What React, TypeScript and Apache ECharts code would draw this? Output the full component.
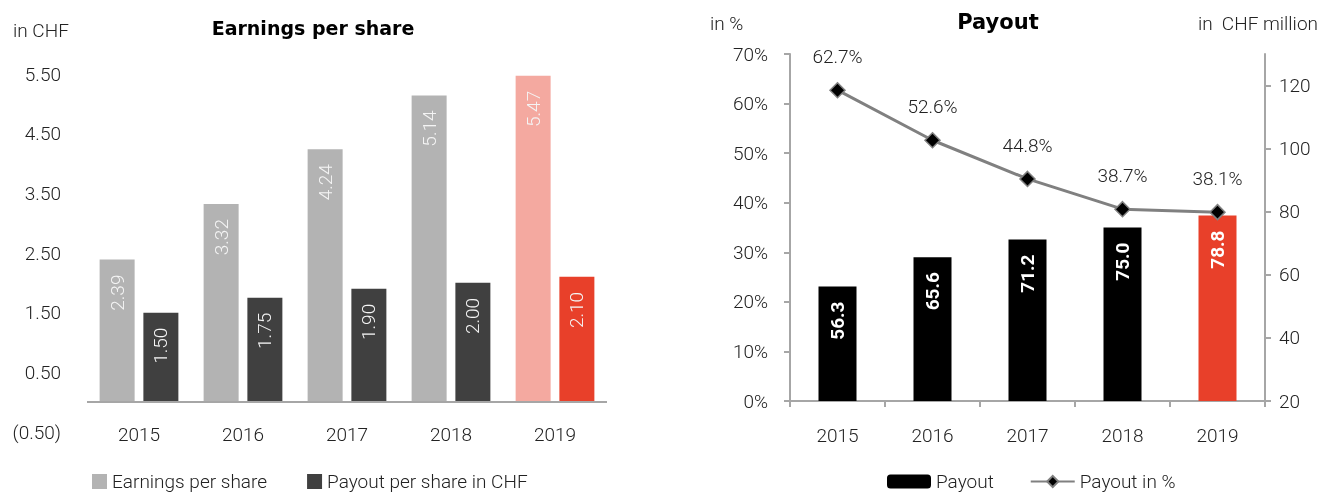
import React, { useEffect, useRef } from 'react';
import * as echarts from 'echarts';

const years = ['2015', '2016', '2017', '2018', '2019'];
const epsValues = [2.39, 3.32, 4.24, 5.14, 5.47];
const payoutPerShare = [1.5, 1.75, 1.9, 2.0, 2.1];
const payoutMillion = [56.3, 65.6, 71.2, 75.0, 78.8];
const payoutPercent = [62.7, 52.6, 44.8, 38.7, 38.1];
const rightAxisTicks = [20, 40, 60, 80, 100, 120];

const FONT = 'Roboto, "Liberation Sans", sans-serif';
const TITLE_FONT = '"DejaVu Sans", sans-serif';
const TXT = '#222';
const AXIS = '#a6a6a6';
const GREY = '#b3b3b3';
const DARK = '#404040';
const RED = '#e8402a';
const LIGHTRED = '#f4a9a0';
const LW = 300;

export default function App() {
  const ref = useRef<HTMLDivElement>(null);
  useEffect(() => {
    if (!ref.current) return;
    const chart = echarts.init(ref.current, undefined, { renderer: 'svg' });
    const highlightLast = (vals: number[], last: string) =>
      vals.map((v, i) => (i === vals.length - 1 ? { value: v, itemStyle: { color: last } } : v));

    const option: any = {
      animation: false,
      textStyle: { fontFamily: FONT },
      graphic: [
        { type: 'text', style: { text: 'in CHF', x: 13, y: 30, fontSize: 19, fontWeight: LW, fontFamily: FONT, fill: TXT, textVerticalAlign: 'middle' } },
        { type: 'text', style: { text: 'Earnings per share', x: 313, y: 28, fontSize: 19, fontWeight: 'bold', fontFamily: TITLE_FONT, fill: '#000', textAlign: 'center', textVerticalAlign: 'middle' } },
        { type: 'text', style: { text: 'in %', x: 710, y: 23, fontSize: 19, fontWeight: LW, fontFamily: FONT, fill: TXT, textVerticalAlign: 'middle' } },
        { type: 'text', style: { text: 'Payout', x: 998, y: 22, fontSize: 21, fontWeight: 'bold', fontFamily: TITLE_FONT, fill: '#000', textAlign: 'center', textVerticalAlign: 'middle' } },
        { type: 'text', style: { text: 'in  CHF million', x: 1318, y: 23, fontSize: 19, fontWeight: LW, fontFamily: FONT, fill: TXT, textAlign: 'right', textVerticalAlign: 'middle' } },
      ],
      legend: [
        {
          data: ['Earnings per share', 'Payout per share in CHF'],
          left: 87, top: 467, icon: 'rect', itemWidth: 15, itemHeight: 15, itemGap: 40,
          textStyle: { fontSize: 19, fontWeight: LW, color: TXT, fontFamily: FONT },
          selectedMode: false,
        },
        {
          data: ['Payout', 'Payout in %'],
          left: 882, top: 467, itemWidth: 44, itemHeight: 14, itemGap: 36,
          textStyle: { fontSize: 19, fontWeight: LW, color: TXT, fontFamily: FONT },
          selectedMode: false,
        },
      ],
      grid: [
        { left: 87, width: 520, top: 74, height: 358 },
        { left: 790, width: 475, top: 54, height: 347 },
      ],
      xAxis: [
        {
          type: 'category', gridIndex: 0, data: years,
          axisLine: { show: false, onZero: false },
          axisTick: { show: false },
          axisLabel: { margin: -7, fontSize: 19, fontWeight: LW, color: TXT, fontFamily: FONT },
        },
        {
          type: 'category', gridIndex: 1, data: years,
          axisLine: { show: true, lineStyle: { color: AXIS, width: 2 } },
          axisTick: { show: true, length: 6, lineStyle: { color: AXIS, width: 2 } },
          axisLabel: { margin: 25, fontSize: 19, fontWeight: LW, color: TXT, fontFamily: FONT },
        },
      ],
      yAxis: [
        {
          type: 'value', gridIndex: 0, min: -0.5, max: 5.5, interval: 1,
          axisLine: { show: false }, axisTick: { show: false }, splitLine: { show: false },
          axisLabel: {
            margin: 26, fontSize: 19, fontWeight: LW, color: TXT, fontFamily: FONT,
            formatter: (v: number) => (v < 0 ? `(${Math.abs(v).toFixed(2)})` : v.toFixed(2)),
          },
        },
        {
          type: 'value', gridIndex: 1, min: 0, max: 70, interval: 10, position: 'left',
          axisLine: { show: true, lineStyle: { color: AXIS, width: 2 } },
          axisTick: { show: true, length: 6, lineStyle: { color: AXIS, width: 2 } },
          splitLine: { show: false },
          axisLabel: { margin: 22, fontSize: 19, fontWeight: LW, color: TXT, fontFamily: FONT, formatter: (v: number) => `${v}%` },
        },
        {
          type: 'value', gridIndex: 1, min: 20, max: 130, interval: 20, position: 'right', startValue: 20,
          axisLine: { show: true, lineStyle: { color: AXIS, width: 2 } },
          axisTick: { show: true, length: 6, lineStyle: { color: AXIS, width: 2 }, customValues: rightAxisTicks },
          splitLine: { show: false },
          axisLabel: { margin: 14, fontSize: 19, fontWeight: LW, color: TXT, fontFamily: FONT, customValues: rightAxisTicks },
        },
      ],
      series: [
        {
          name: 'Earnings per share', type: 'bar', xAxisIndex: 0, yAxisIndex: 0,
          data: highlightLast(epsValues, LIGHTRED),
          itemStyle: { color: GREY },
          barWidth: 35, barGap: '25%',
          label: {
            show: true, position: 'insideTop', rotate: 90, align: 'right', verticalAlign: 'middle', distance: 15,
            fontSize: 19, fontWeight: LW, color: '#f4f4f4', fontFamily: FONT, formatter: (p: any) => p.value.toFixed(2),
          },
          markLine: {
            silent: true, symbol: 'none', label: { show: false },
            lineStyle: { color: AXIS, width: 2, type: 'solid' },
            data: [{ yAxis: 0 }],
          },
        },
        {
          name: 'Payout per share in CHF', type: 'bar', xAxisIndex: 0, yAxisIndex: 0,
          data: highlightLast(payoutPerShare, RED),
          itemStyle: { color: DARK },
          barWidth: 35, barGap: '25%',
          label: {
            show: true, position: 'insideTop', rotate: 90, align: 'right', verticalAlign: 'middle', distance: 15,
            fontSize: 19, fontWeight: LW, color: '#f4f4f4', fontFamily: FONT, formatter: (p: any) => p.value.toFixed(2),
          },
        },
        {
          name: 'Payout', type: 'bar', xAxisIndex: 1, yAxisIndex: 2, clip: true,
          data: highlightLast(payoutMillion, RED),
          itemStyle: { color: '#000' },
          barWidth: 38,
          label: {
            show: true, position: 'insideTop', rotate: 90, align: 'right', verticalAlign: 'middle', distance: 15,
            fontSize: 19, fontWeight: 'bold', color: '#fff', fontFamily: FONT, formatter: (p: any) => p.value.toFixed(1),
          },
        },
        {
          name: 'Payout in %', type: 'line', xAxisIndex: 1, yAxisIndex: 1,
          data: payoutPercent,
          symbol: 'diamond', symbolSize: 15,
          lineStyle: { color: '#808080', width: 3 },
          itemStyle: { color: '#000', borderColor: '#808080', borderWidth: 1.5 },
          label: {
            show: true, position: 'top', distance: 16, fontSize: 19, fontWeight: LW, color: TXT, fontFamily: FONT,
            formatter: (p: any) => `${p.value.toFixed(1)}%`,
          },
        },
      ],
    };
    chart.setOption(option);
    return () => chart.dispose();
  }, []);
  return <div ref={ref} style={{ position: 'fixed', left: 0, top: 0, width: 1321, height: 492 }} />;
}
